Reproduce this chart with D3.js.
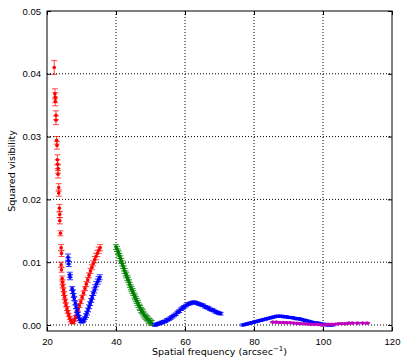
<!DOCTYPE html>
<html>
<head>
<meta charset="utf-8">
<script src="https://cdn.jsdelivr.net/npm/d3@7"></script>
<style>
  body { margin: 0; background: #fff; }
  svg { display: block; font-family: 'DejaVu Sans', sans-serif; }
  .axis-text { font-size: 9.5px; fill: #000; }
  .grid { stroke: #000; stroke-width: 1; stroke-dasharray: 1,2; fill: none; }
</style>
</head>
<body>
<div id="chart"></div>
<script>
// series 1 (red)
const redX = [22.1, 22.3, 22.4, 22.4, 22.6, 22.6, 22.8, 22.9, 23.0, 23.1, 23.2, 23.2, 23.4, 23.4, 23.6, 23.7, 23.7, 23.9,
  24.1, 24.2, 24.1, 24.2, 24.4, 24.5, 24.6, 24.8, 24.9, 25.1, 25.3, 25.5, 25.8, 26.0, 26.3, 26.6, 26.9, 27.2, 27.6,
  28.0, 28.3, 28.7, 29.0, 29.4, 29.8, 30.2, 30.6, 31.0, 31.4, 31.8, 32.2, 32.6, 33.0, 33.4, 33.8, 34.2, 34.6, 35.0, 35.4];
const redY = [0.0410, 0.0368, 0.0362, 0.0356, 0.0334, 0.0326, 0.0294, 0.0286, 0.0263, 0.0256, 0.0249, 0.0240, 0.0219,
  0.0210, 0.0186, 0.0176, 0.0166, 0.0146, 0.0123, 0.0114, 0.0096, 0.0088, 0.0074, 0.0068, 0.0062, 0.0056, 0.0050,
  0.0044, 0.0038, 0.0032, 0.0026, 0.0021, 0.0016, 0.0011, 0.0007, 0.0004, 0.0004, 0.0008, 0.0013, 0.0019, 0.0025,
  0.0031, 0.0037, 0.0044, 0.0051, 0.0058, 0.0065, 0.0072, 0.0079, 0.0086, 0.0092, 0.0098, 0.0104, 0.0109, 0.0114,
  0.0119, 0.0123];
const redErr = [0.0011, 0.0008, 0.0008, 0.0007, 0.0007, 0.0007, 0.0006, 0.0006, 0.0008, 0.0007, 0.0007, 0.0006, 0.0006,
  0.0005, 0.0006, 0.0005, 0.0005, 0.0004, 0.0005, 0.0005, 0.0004, 0.0004, 0.0004, 0.0004, 0.0003, 0.0003, 0.0003,
  0.0003, 0.0003, 0.0003, 0.0003, 0.0002, 0.0002, 0.0002, 0.0002, 0.0002, 0.0002, 0.0002, 0.0002, 0.0003, 0.0003,
  0.0003, 0.0003, 0.0003, 0.0003, 0.0003, 0.0004, 0.0004, 0.0004, 0.0004, 0.0004, 0.0004, 0.0005, 0.0005, 0.0005,
  0.0005, 0.0005];

// series 2 (blue, first lobe)
const blue1X = [26.1, 26.2, 26.3, 26.6, 26.7, 27.3, 27.5, 27.7, 27.9, 28.2, 28.4, 28.7, 28.9, 29.2, 29.5, 29.8, 30.1,
  30.4, 30.7, 31.0, 31.3, 31.6, 31.9, 32.2, 32.5, 32.8, 33.1, 33.4, 33.7, 34.0, 34.3, 34.7, 35.0, 35.3];
const blue1Y = [0.0108, 0.0102, 0.0097, 0.0080, 0.0076, 0.0058, 0.0053, 0.0047, 0.0042, 0.0035, 0.0029, 0.0023, 0.0018,
  0.0013, 0.0009, 0.0006, 0.0005, 0.0006, 0.0008, 0.0011, 0.0015, 0.0019, 0.0024, 0.0029, 0.0034, 0.0039, 0.0044,
  0.0050, 0.0055, 0.0060, 0.0065, 0.0069, 0.0073, 0.0076];
const blue1Err = [0.0005, 0.0005, 0.0004, 0.0004, 0.0004, 0.0003, 0.0003, 0.0003, 0.0003, 0.0003, 0.0003, 0.0003, 0.0002,
  0.0002, 0.0002, 0.0002, 0.0002, 0.0002, 0.0002, 0.0002, 0.0003, 0.0003, 0.0003, 0.0003, 0.0003, 0.0003, 0.0003,
  0.0003, 0.0004, 0.0004, 0.0004, 0.0004, 0.0004, 0.0004];

// series 3 (green)
const greenX = [40.0, 40.3, 40.5, 40.8, 41.0, 41.3, 41.5, 41.8, 42.0, 42.3, 42.5, 42.8, 43.0, 43.3, 43.5, 43.8, 44.0,
  44.3, 44.5, 44.8, 45.0, 45.3, 45.5, 45.8, 46.0, 46.3, 46.5, 46.8, 47.0, 47.3, 47.5, 47.8, 48.0, 48.3, 48.6, 48.9,
  49.2, 49.5, 49.8, 50.1, 50.4];
const greenY = [0.0124, 0.0121, 0.0117, 0.0114, 0.0110, 0.0106, 0.0102, 0.0098, 0.0094, 0.0090, 0.0086, 0.0082, 0.0079,
  0.0075, 0.0072, 0.0068, 0.0064, 0.0060, 0.0057, 0.0054, 0.0051, 0.0047, 0.0044, 0.0041, 0.0038, 0.0035, 0.0032,
  0.0029, 0.0027, 0.0024, 0.0022, 0.0020, 0.0017, 0.0015, 0.0013, 0.0011, 0.0009, 0.0007, 0.0006, 0.0004, 0.0003];
const greenErr = 0.0004;

// series 4 (blue, second lobe)
const blue2X = [51.3, 51.8, 52.3, 52.8, 53.3, 53.8, 54.3, 54.8, 55.3, 55.8, 56.3, 56.8, 57.3, 57.8, 58.3, 58.8, 59.3,
  59.8, 60.3, 60.8, 61.3, 61.8, 62.3, 62.8, 63.3, 63.8, 64.3, 64.8, 65.3, 65.8, 66.3, 66.8, 67.3, 67.8, 68.3, 68.8,
  69.3, 69.8, 70.3];
const blue2Y = [0.0000, 0.0001, 0.0002, 0.0003, 0.0004, 0.0005, 0.0006, 0.0008, 0.0009, 0.0011, 0.0013, 0.0015, 0.0017,
  0.0020, 0.0022, 0.0025, 0.0027, 0.0029, 0.0031, 0.0033, 0.0034, 0.0035, 0.0036, 0.0036, 0.0035, 0.0034, 0.0033,
  0.0032, 0.0031, 0.0029, 0.0028, 0.0027, 0.0025, 0.0024, 0.0023, 0.0021, 0.0020, 0.0019, 0.0018];
const blue2Err = 0.0002;

// series 5 (blue, third lobe)
const blue3X = [76.8, 77.5, 78.2, 78.9, 79.6, 80.3, 81.0, 81.7, 82.4, 83.1, 83.8, 84.5, 85.2, 85.9, 86.6, 87.3, 88.0,
  88.7, 89.4, 90.1, 90.8, 91.5, 92.2, 92.9, 93.6, 94.3, 95.0, 95.7, 96.4, 97.1, 97.8, 98.5, 99.2, 99.9, 100.6, 101.3,
  102.0, 102.7];
const blue3Y = [0.0000, 0.0001, 0.0002, 0.0003, 0.0004, 0.0005, 0.0006, 0.0007, 0.0008, 0.0009, 0.0010, 0.0011, 0.0012,
  0.0013, 0.0014, 0.0014, 0.0014, 0.0013, 0.0013, 0.0012, 0.0012, 0.0011, 0.0010, 0.0010, 0.0009, 0.0008, 0.0007,
  0.0006, 0.0005, 0.0004, 0.0003, 0.0003, 0.0002, 0.0001, 0.0001, 0.0000, 0.0000, 0.0000];
const blue3Err = 0.00015;

// series 6 (magenta)
const magX = [85.5, 86.5, 87.5, 88.5, 89.5, 90.5, 91.5, 92.5, 93.5, 94.5, 95.5, 96.5, 97.5, 98.5, 99.5, 100.5, 101.5,
  102.5, 103.5, 104.5, 105.5, 106.5, 107.5, 108.5, 110.0, 111.5, 112.8];
const magY = [0.00045, 0.00045, 0.0004, 0.0004, 0.00035, 0.00035, 0.0003, 0.00025, 0.0002, 0.0002, 0.00015, 0.0001,
  0.0001, 0.0001, 0.0, 0.0, 0.0001, 0.0001, 0.0001, 0.0002, 0.0002, 0.0002, 0.0003, 0.0003, 0.0003, 0.0003, 0.0003];
const magErr = 0.0001;

const xTicks = [20, 40, 60, 80, 100, 120];
const yTicks = [0.00, 0.01, 0.02, 0.03, 0.04, 0.05];

const width = 403;
const height = 357;
const margin = {top: 11, right: 11, bottom: 26, left: 47};
const innerW = width - margin.left - margin.right;
const innerH = height - margin.top - margin.bottom;

const x = d3.scaleLinear().domain([20, 120]).range([0, innerW]);
const y = d3.scaleLinear().domain([-0.00096, 0.05]).range([innerH, 0]);

const svg = d3.select('#chart').append('svg')
  .attr('width', width)
  .attr('height', height);

svg.append('rect').attr('width', width).attr('height', height).attr('fill', '#fff');

const chart = svg.append('g')
  .attr('transform', 'translate(' + margin.left + ',' + margin.top + ')');

// dotted grid
chart.selectAll('line.vgrid')
  .data(xTicks.slice(1, -1)).enter()
  .append('line')
  .attr('class', 'grid')
  .attr('x1', d => x(d)).attr('x2', d => x(d))
  .attr('y1', 0).attr('y2', innerH);

chart.selectAll('line.hgrid')
  .data(yTicks.slice(0, -1)).enter()
  .append('line')
  .attr('class', 'grid')
  .attr('x1', 0).attr('x2', innerW)
  .attr('y1', d => y(d)).attr('y2', d => y(d));

// draw one errorbar series
function drawSeries(xs, ys, errs, color, alpha) {
  const data = xs.map((v, i) => ({x: v, y: ys[i], e: Array.isArray(errs) ? errs[i] : errs}));
  const g = chart.append('g')
    .attr('stroke', color)
    .attr('fill', color);

  const pt = g.selectAll('g.pt')
    .data(data).enter()
    .append('g')
    .attr('class', 'pt')
    .attr('stroke-opacity', alpha);

  pt.append('line')
    .attr('x1', d => x(d.x)).attr('x2', d => x(d.x))
    .attr('y1', d => y(d.y - d.e)).attr('y2', d => y(d.y + d.e));
  pt.append('line')
    .attr('x1', d => x(d.x) - 3).attr('x2', d => x(d.x) + 3)
    .attr('y1', d => y(d.y - d.e)).attr('y2', d => y(d.y - d.e));
  pt.append('line')
    .attr('x1', d => x(d.x) - 3).attr('x2', d => x(d.x) + 3)
    .attr('y1', d => y(d.y + d.e)).attr('y2', d => y(d.y + d.e));

  g.selectAll('circle')
    .data(data).enter()
    .append('circle')
    .attr('stroke', 'none')
    .attr('cx', d => x(d.x))
    .attr('cy', d => y(d.y))
    .attr('r', 1.8);
}

drawSeries(redX, redY, redErr, '#ff0000', 0.7);
drawSeries(blue1X, blue1Y, blue1Err, '#0000ff', 0.8);
drawSeries(greenX, greenY, greenErr, '#008000', 0.8);
drawSeries(blue2X, blue2Y, blue2Err, '#0000ff', 0.9);
drawSeries(blue3X, blue3Y, blue3Err, '#0000ff', 0.9);
drawSeries(magX, magY, magErr, '#bf00bf', 0.9);

// axes, ticks pointing inward
const xAxis = d3.axisBottom(x).tickValues(xTicks).tickFormat(d3.format('d')).tickSizeInner(-4).tickSizeOuter(0).tickPadding(7);
const yAxis = d3.axisLeft(y).tickValues(yTicks).tickFormat(d3.format('.2f')).tickSizeInner(-4).tickSizeOuter(0).tickPadding(6);

const axisX = chart.append('g')
  .attr('transform', 'translate(0,' + innerH + ')')
  .call(xAxis);
const axisY = chart.append('g').call(yAxis);

chart.append('g').call(d3.axisTop(x).tickValues(xTicks).tickFormat('').tickSizeInner(-4).tickSizeOuter(0));
chart.append('g').attr('transform', 'translate(' + innerW + ',0)')
  .call(d3.axisRight(y).tickValues(yTicks).tickFormat('').tickSizeInner(-4).tickSizeOuter(0));

chart.selectAll('.domain').remove();
chart.selectAll('.tick line').attr('stroke', '#000');
axisX.selectAll('.tick text').attr('class', 'axis-text');
axisY.selectAll('.tick text').attr('class', 'axis-text');
chart.selectAll('.tick text').attr('font-family', null).attr('font-size', null);

// frame
chart.append('rect')
  .attr('width', innerW).attr('height', innerH)
  .attr('fill', 'none').attr('stroke', '#000').attr('stroke-width', 1);

// labels
svg.append('text')
  .attr('x', margin.left + innerW / 2)
  .attr('y', 355)
  .attr('text-anchor', 'middle')
  .attr('font-size', '9.5px')
  .html('Spatial frequency (arcsec<tspan dy="-4" font-size="7px">\u22121</tspan><tspan dy="4">)</tspan>');

svg.append('text')
  .attr('transform', 'translate(15,' + (margin.top + innerH / 2) + ') rotate(-90)')
  .attr('text-anchor', 'middle')
  .attr('font-size', '9.5px')
  .text('Squared visibility');
</script>
</body>
</html>
